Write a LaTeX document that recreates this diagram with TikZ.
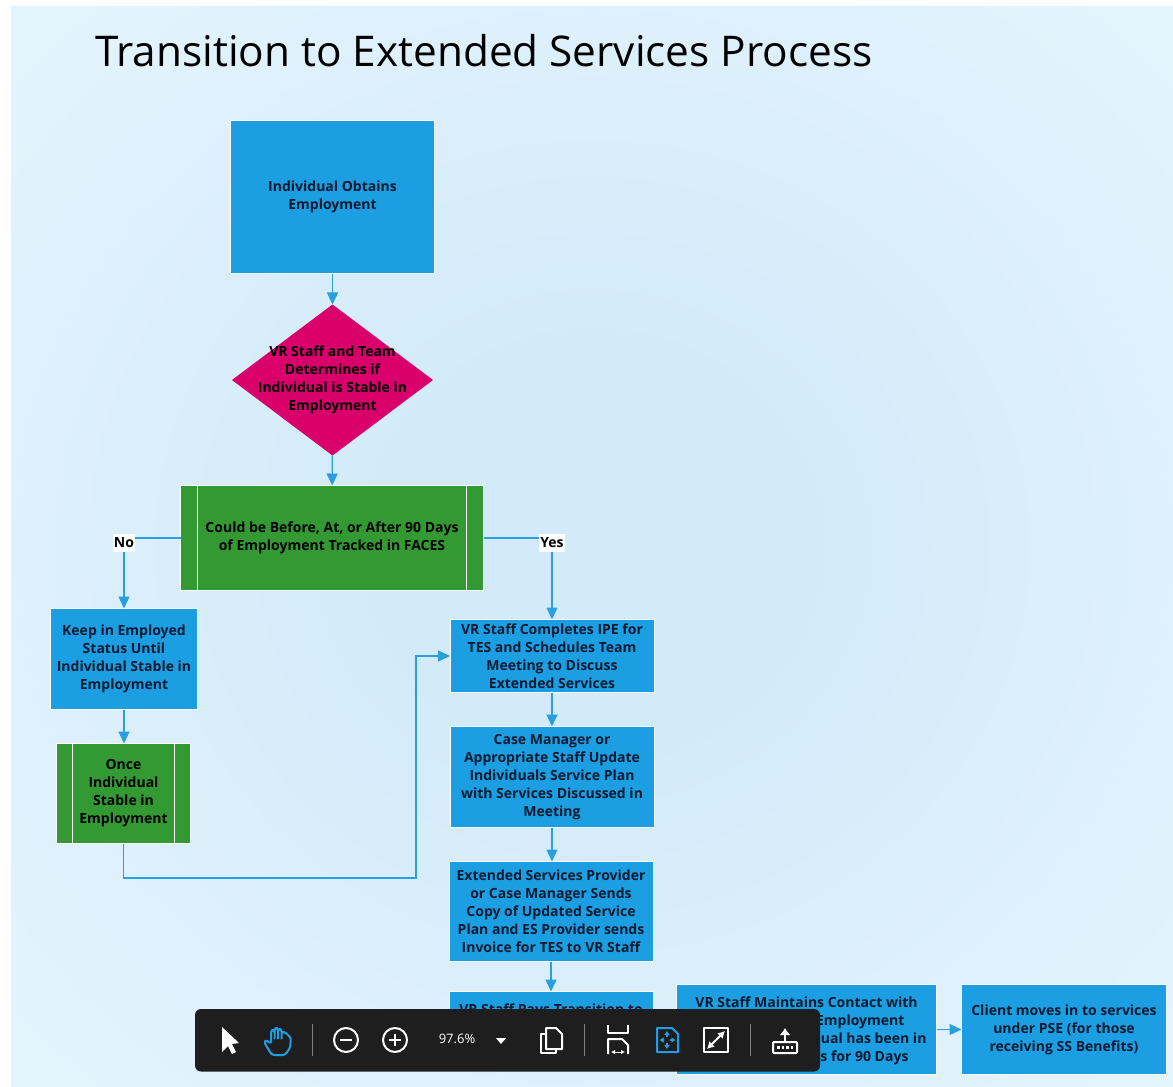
\documentclass[tikz,border=0pt]{standalone}
\usepackage{fontspec}
\usetikzlibrary{shapes.geometric,arrows.meta}
\newfontfamily\boxfont{Open Sans}[BoldFont={Open Sans Bold}]
\newfontfamily\headfont{Open Sans}
\definecolor{pagepale}{HTML}{E4F4FD}
\definecolor{pagedeep}{HTML}{D2EAF9}
\definecolor{stepblue}{HTML}{1B9FE2}
\definecolor{stepgreen}{HTML}{339933}
\definecolor{stepred}{HTML}{D9006C}
\definecolor{linkblue}{HTML}{2A9FDF}
\definecolor{inkdark}{HTML}{0A1A30}
\definecolor{barblack}{HTML}{1E1E1E}
\definecolor{iconblue}{HTML}{1C9FE6}
\pgfdeclareradialshading{pagewash}{\pgfpoint{0bp}{0bp}}{color(0bp)=(pagedeep);
  color(8bp)=(pagedeep); color(34bp)=(pagepale); color(50bp)=(pagepale)}
\tikzset{
  boxtext/.style={font=\boxfont\bfseries\fontsize{14}{18}\selectfont, text=inkdark, align=center},
  stepbox/.style={boxtext, rectangle, fill=stepblue, draw=white, line width=1pt,
    inner sep=1pt, outer sep=0pt},
  subproc/.style={stepbox, fill=stepgreen, text=black, path picture={
    \draw[white, line width=1.2pt]
      ([xshift=#1pt]path picture bounding box.north west) --
      ([xshift=#1pt]path picture bounding box.south west)
      ([xshift=-#1pt]path picture bounding box.north east) --
      ([xshift=-#1pt]path picture bounding box.south east);}},
  decide/.style={diamond, fill=stepred, draw=none, inner sep=0pt, outer sep=0pt,
    minimum width=201pt, minimum height=151pt},
  link/.style={draw=linkblue, line width=1.3pt, -{Triangle[length=12pt,width=11pt]}},
  answer/.style={boxtext, text=black, fill=white, inner sep=1pt, minimum height=18pt},
  icon/.style={draw=white, line width=1.6pt, line join=round},
  iconb/.style={draw=iconblue, line width=1.6pt, line join=round},
  smalltips/.style={{Latex[length=4pt,width=4.5pt]}-{Latex[length=4pt,width=4.5pt]}, line width=1pt},
  fourway/.style={draw=iconblue, line width=1.2pt, -{Latex[length=4pt,width=6pt]}}
}
\begin{document}
\begin{tikzpicture}[x=1pt,y=-1pt]
  \useasboundingbox (0,0) rectangle (1173,1087);
  \fill[white] (0,0) rectangle (1173,1087);
  \shade[shading=pagewash] (11,6) rectangle (1173,1087);

  \node[font=\headfont\fontsize{42.3}{50}\selectfont, anchor=base west, inner sep=0pt]
    (title) at (95,66) {Transition to Extended Services Process};

  % left branch and the first steps
  \node[stepbox, minimum width=204pt, minimum height=153pt] (obtain) at (332.5,197)
    {Individual Obtains\\Employment};
  \node[decide] (stable) at (332.5,380) {};
  \node[boxtext, text=black] (stabletext) at (332.5,380)
    {VR Staff and Team\\Determines if\\Individual is Stable in\\Employment};
  \node[subproc=17, minimum width=303pt, minimum height=105pt] (faces) at (332,538)
    {Could be Before, At, or After 90 Days\\of Employment Tracked in FACES};
  \node[stepbox, minimum width=147pt, minimum height=101pt] (keep) at (124,659)
    {Keep in Employed\\Status Until\\Individual Stable in\\Employment};
  \node[subproc=16, minimum width=134pt, minimum height=100pt] (once) at (123.5,793.5)
    {Once\\Individual\\Stable in\\Employment};

  % right branch
  \node[stepbox, minimum width=204pt, minimum height=73pt] (ipe) at (552,656)
    {VR Staff Completes IPE for\\TES and Schedules Team\\Meeting to Discuss\\Extended Services};
  \node[stepbox, minimum width=204pt, minimum height=101pt] (plan) at (552,777)
    {Case Manager or\\Appropriate Staff Update\\Individuals Service Plan\\with Services Discussed in\\Meeting};
  \node[stepbox, minimum width=204pt, minimum height=100pt] (invoice) at (551,911.5)
    {Extended Services Provider\\or Case Manager Sends\\Copy of Updated Service\\Plan and ES Provider sends\\Invoice for TES to VR Staff};
  \node[stepbox, minimum width=204pt, minimum height=60pt, anchor=north,
    text depth=24pt] (pays) at (551,991.5) {VR Staff Pays Transition to};
  \node[stepbox, minimum width=260pt, minimum height=90pt] (contact) at (806.5,1029.5) {};
  \node[boxtext] (contacta) at (806.5,1002.5) {VR Staff Maintains Contact with};
  \node[boxtext, anchor=base east] (contactb) at (908,1025.5) {Employment};
  \node[boxtext, anchor=base east] (contactc) at (930,1043.5) {dual has been in};
  \node[boxtext, anchor=base east] (contactd) at (912,1061.5) {s for 90 Days};
  \node[stepbox, minimum width=205pt, minimum height=90pt] (pse) at (1064,1029.5)
    {Client moves in to services\\under PSE (for those\\receiving SS Benefits)};

  \draw[link] (obtain) -- (stable);
  \draw[link] (stable) -- (faces);
  \draw[link] (faces.west) -| (keep.north)
    node[answer, pos=0.5, yshift=-5pt] (no) {No};
  \draw[link] (faces.east) -| (ipe.north)
    node[answer, pos=0.5, yshift=-5pt] (yes) {Yes};
  \draw[link] (keep) -- (keep |- once.north);
  \coordinate (turn) at (416,878);
  \draw[link] (once.south) |- (turn) |- (ipe.west);
  \draw[link] (ipe) -- (plan);
  \draw[link] (plan.south) -- (plan.south |- invoice.north);
  \draw[link] (invoice) -- (invoice |- pays.north);
  \draw[link] (contact) -- (pse);

  % viewer toolbar over the lower boxes
  \fill[barblack, rounded corners=6pt] (195,1009) rectangle (820,1071.5);
  \fill[white] (222,1027) -- (222,1052) -- (228,1046) -- (232,1054) -- (236,1052)
    -- (232,1044) -- (239,1043) -- cycle;
  \draw[iconb, line width=2pt, rounded corners=2.5pt] (270,1052) -- (264,1042) -- (267,1040) -- (271,1044)
    -- (271,1030) -- (274.5,1030) -- (274.5,1040) -- (274.5,1028) -- (278,1028) -- (278,1040)
    -- (278,1029) -- (281.5,1029) -- (281.5,1040) -- (281.5,1032) -- (285,1032) -- (291,1038)
    -- (290,1048) -- (285,1055) -- (272,1055) -- cycle;
  \draw[gray, line width=1pt] (312,1024) -- (312,1056);
  \draw[icon, line width=2pt] (346,1040) circle [radius=12];
  \draw[icon, line width=2pt] (340,1040) -- (352,1040);
  \draw[icon, line width=2pt] (395,1040) circle [radius=12];
  \draw[icon, line width=2pt] (389,1040) -- (401,1040) (395,1034) -- (395,1046);
  \node[font=\headfont\fontsize{13}{15}\selectfont, text=white, inner sep=0pt] (zoomtext)
    at (457,1039) {97.6\%};
  \fill[white] (496,1038) -- (506,1038) -- (501,1044) -- cycle;
  \draw[icon, line width=2pt] (546,1034) -- (541,1034) -- (541,1053) -- (556,1053) -- (556,1050);
  \draw[icon, line width=2pt] (546,1028) -- (556,1028) -- (562,1034) -- (562,1049) -- (546,1049) -- cycle;
  \draw[gray, line width=1pt] (584,1024) -- (584,1056);
  \draw[icon, line width=2pt] (608,1025) -- (608,1033) -- (628,1033) -- (628,1025);
  \draw[icon, line width=2pt] (608,1054) -- (608,1039) -- (622,1039) -- (628,1045) -- (628,1054);
  \draw[draw=white, smalltips] (611,1052) -- (625,1052);
  \draw[iconb, line width=2pt] (657,1028) -- (672,1028) -- (678,1034) -- (678,1052) -- (657,1052) -- cycle;
  \draw[fourway] (667,1037) -- (667,1031);
  \draw[fourway] (667,1043) -- (667,1049);
  \draw[fourway] (664,1040) -- (659.5,1040);
  \draw[fourway] (670,1040) -- (675.5,1040);
  \draw[icon, line width=2.2pt] (704,1028) rectangle (728,1052);
  \draw[draw=white, line width=2pt, -{Latex[length=7pt,width=8pt]}] (716,1040) -- (725,1031);
  \draw[draw=white, line width=2pt, -{Latex[length=7pt,width=8pt]}] (716,1040) -- (707,1049);
  \draw[gray, line width=1pt] (750,1024) -- (750,1056);
  \draw[draw=white, line width=2pt, -{Latex[length=7pt,width=11pt]}] (785,1042) -- (785,1028);
  \draw[icon, line width=2pt, rounded corners=1pt] (773,1042) rectangle (797,1053);
  \draw[white, line width=2.5pt, dash pattern=on 2.5pt off 2pt] (777,1047.5) -- (794,1047.5);
\end{tikzpicture}
\end{document}
